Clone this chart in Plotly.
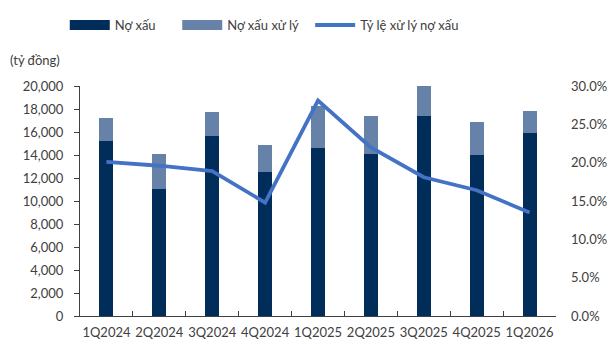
import plotly.graph_objects as go

quarters = ["1Q2024", "2Q2024", "3Q2024", "4Q2024", "1Q2025", "2Q2025", "3Q2025", "4Q2025", "1Q2026"]
no_xau = [15250, 11020, 15650, 12560, 14640, 14090, 17390, 13980, 15910]
no_xau_xu_ly = [1950, 3040, 2090, 2340, 3590, 3270, 2610, 2890, 1910]
ty_le_xu_ly = [0.201, 0.196, 0.189, 0.148, 0.281, 0.220, 0.181, 0.164, 0.135]

FONT = "Lato"
TXT = "#404040"
C_DARK = "#002D5A"
C_LIGHT = "#6682A8"
C_LINE = "#4472C4"
NB = "\u00a0"

fig = go.Figure()
fig.add_trace(go.Bar(x=quarters, y=no_xau, name="Nợ xấu", marker_color=C_DARK,
                     marker_line_width=0, showlegend=False))
fig.add_trace(go.Bar(x=quarters, y=no_xau_xu_ly, name="Nợ xấu xử lý", marker_color=C_LIGHT,
                     marker_line_width=0, showlegend=False))
fig.add_trace(go.Scatter(x=quarters, y=ty_le_xu_ly, name="Tỷ lệ xử lý nợ xấu", yaxis="y2",
                         mode="lines", line=dict(color=C_LINE, width=3.8), showlegend=False))
# legend entries (wide swatches like the reference)
for nm, col, w in [("Nợ xấu" + NB * 5, C_DARK, 10), ("Nợ xấu xử lý" + NB * 2, C_LIGHT, 10),
                   ("Tỷ lệ xử lý nợ xấu", C_LINE, 3.8)]:
    fig.add_trace(go.Scatter(x=[None], y=[None], mode="lines", name=nm,
                             line=dict(color=col, width=w)))

fig.update_layout(
    width=611, height=345,
    margin=dict(l=80, r=55, t=86, b=29, autoexpand=False),
    paper_bgcolor="white", plot_bgcolor="white",
    barmode="stack", bargap=0.735,
    font=dict(family=FONT, size=13, color=TXT),
    legend=dict(orientation="h", x=-0.032, xanchor="left", y=1.265, yanchor="middle",
                font=dict(size=13, color=TXT), traceorder="normal", itemwidth=40),
    xaxis=dict(showline=True, linecolor="#404040", linewidth=1, ticks="inside",
               tickson="boundaries", ticklen=5, tickcolor="#404040", showgrid=False,
               tickangle=0, automargin=False, ticklabelstandoff=4,
               tickfont=dict(size=13, color=TXT)),
    yaxis=dict(range=[0, 20000], dtick=2000, tickformat=",d", showline=True,
               linecolor="#404040", linewidth=1, ticks="outside", ticklen=5,
               tickcolor="#404040", showgrid=False, zeroline=False, automargin=False,
               ticklabelstandoff=8, tickfont=dict(size=13, color=TXT)),
    yaxis2=dict(range=[0, 0.30], dtick=0.05, tickformat=".1%", overlaying="y", side="right",
                showline=False, showgrid=False, zeroline=False, ticks="", automargin=False,
                ticklabelstandoff=14, tickfont=dict(size=13, color=TXT)),
    annotations=[dict(text="(tỷ đồng)", xref="paper", yref="paper", x=-0.151, y=1.113,
                      xanchor="left", yanchor="middle", showarrow=False,
                      font=dict(size=13, color=TXT))],
)

fig.write_html("out.html")
